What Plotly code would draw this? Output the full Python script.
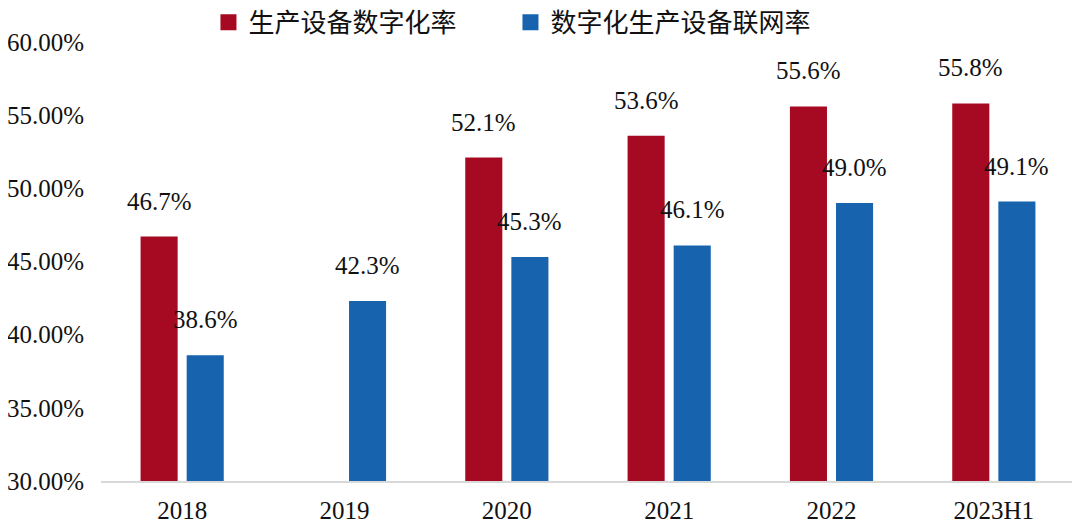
import plotly.graph_objects as go

categories = ["2018", "2019", "2020", "2021", "2022", "2023H1"]
series_names = ["生产设备数字化率", "数字化生产设备联网率"]
digitization_rate = [0.467, None, 0.521, 0.536, 0.556, 0.558]
network_rate = [0.386, 0.423, 0.453, 0.461, 0.490, 0.491]
colors = ["#A50A22", "#1763AE"]

FONT = "Liberation Serif, Times New Roman, Noto Sans CJK SC, serif"

fig = go.Figure()
for name, vals, col in zip(series_names, [digitization_rate, network_rate], colors):
    fig.add_trace(go.Bar(
        x=categories, y=vals, name=name, showlegend=False,
        marker=dict(color=col, line=dict(width=0)),
    ))
# legend entries with larger square symbols
for name, col in zip(series_names, colors):
    fig.add_trace(go.Scatter(
        x=[None], y=[None], mode="markers", name=name,
        marker=dict(symbol="square", size=18, color=col),
    ))

# data labels above bars, offset by group slot (x given as category index)
for vals, dx in [(digitization_rate, -23), (network_rate, 23)]:
    for idx, v in enumerate(vals):
        if v is None:
            continue
        fig.add_annotation(
            x=idx, y=v, xref="x", yref="y", text=f"{v*100:.1f}%",
            showarrow=False, xshift=dx, yshift=20, yanchor="bottom",
            font=dict(family=FONT, size=25, color="#111111"),
        )

# page body adds an 8px offset, so the figure is sized/margined to compensate
fig.update_layout(
    width=1072, height=518,
    margin=dict(l=93, r=5, t=34, b=45, autoexpand=False),
    paper_bgcolor="white", plot_bgcolor="white",
    barmode="group", bargap=0.432, bargroupgap=0.196,
    font=dict(family=FONT, size=25, color="#111111"),
    showlegend=True,
    legend=dict(
        orientation="h", xref="container", yref="paper",
        x=0.187, xanchor="left", y=1.045, yanchor="middle",
        font=dict(family="Noto Sans CJK SC, serif", size=26, color="#111111"),
        entrywidth=257, entrywidthmode="pixels", itemwidth=30,
        bgcolor="rgba(0,0,0,0)",
    ),
    xaxis=dict(
        type="category", range=[-0.5, len(categories) - 0.5], automargin=False,
        showline=True, linecolor="#D9D9D9", linewidth=2, showgrid=False,
        ticks="", tickfont=dict(family=FONT, size=25), ticklabelstandoff=6,
    ),
    yaxis=dict(
        range=[0.30, 0.60], dtick=0.05, tickformat=".2%", showgrid=False,
        zeroline=False, showline=False, ticks="", automargin=False,
        tickfont=dict(family=FONT, size=25), ticklabelstandoff=16,
    ),
)

fig.write_html("out.html")
